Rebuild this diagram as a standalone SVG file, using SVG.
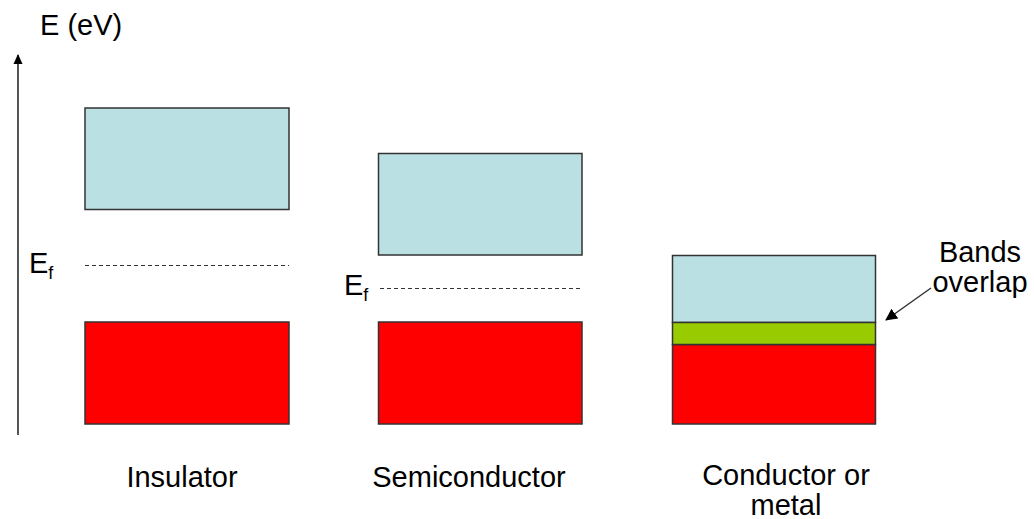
<svg xmlns="http://www.w3.org/2000/svg" width="1034" height="519" viewBox="0 0 1034 519">
  <style>
    .band { stroke: #333; stroke-width: 1.5; }
    .cb { fill: #BBE0E3; }
    .vb { fill: #FF0000; }
    .ov { fill: #99CC00; }
    .lbl { font-family: "Liberation Sans", Arial, sans-serif; font-size: 29px; fill: #000; }
    .sub { font-size: 18px; }
    .ef { stroke: #333; stroke-width: 1; stroke-dasharray: 4 3; fill: none; }
  </style>
  <defs>
    <marker id="head" markerWidth="12" markerHeight="12" refX="11" refY="6" orient="auto" markerUnits="userSpaceOnUse">
      <path d="M0,0 L12,6 L0,12 Z" fill="#000"/>
    </marker>
    <marker id="axisHead" markerWidth="10" markerHeight="10" refX="9" refY="5" orient="auto" markerUnits="userSpaceOnUse">
      <path d="M0,0.5 L10,5 L0,9.5 Z" fill="#000"/>
    </marker>
  </defs>

  <!-- energy axis -->
  <g id="axis">
    <line x1="18" y1="435" x2="18" y2="55" stroke="#555" stroke-width="2" marker-end="url(#axisHead)"/>
    <text class="lbl" x="40" y="35">E (eV)</text>
  </g>

  <!-- insulator: wide gap, Fermi level mid-gap -->
  <g id="insulator">
    <rect class="band cb" x="85" y="108" width="204" height="101.5"/>
    <rect class="band vb" x="85" y="322" width="204" height="102"/>
    <line class="ef" x1="85" y1="265.5" x2="289" y2="265.5"/>
    <text class="lbl" x="29" y="273">E<tspan class="sub" dy="6">f</tspan></text>
    <text class="lbl" x="182" y="487" text-anchor="middle">Insulator</text>
  </g>

  <!-- semiconductor: narrow gap -->
  <g id="semiconductor">
    <rect class="band cb" x="378.5" y="153.5" width="203.5" height="101.5"/>
    <rect class="band vb" x="378.5" y="322" width="203.5" height="102"/>
    <line class="ef" x1="380" y1="288.5" x2="582" y2="288.5"/>
    <text class="lbl" x="344" y="295">E<tspan class="sub" dy="6">f</tspan></text>
    <text class="lbl" x="469" y="487" text-anchor="middle">Semiconductor</text>
  </g>

  <!-- conductor: overlapping bands -->
  <g id="conductor">
    <rect class="band cb" x="672.5" y="255.5" width="203" height="67"/>
    <rect class="band vb" x="672.5" y="344.5" width="203" height="79.5"/>
    <rect class="band ov" x="672.5" y="322.5" width="203" height="22"/>
    <text class="lbl" x="786" y="485" text-anchor="middle">Conductor or</text>
    <text class="lbl" x="786" y="515" text-anchor="middle">metal</text>
  </g>

  <g id="overlap-note">
    <text class="lbl" x="980" y="262" text-anchor="middle">Bands</text>
    <text class="lbl" x="980" y="292" text-anchor="middle">overlap</text>
  </g>

  <g id="connectors">
    <line x1="931" y1="288" x2="886" y2="320" stroke="#333" stroke-width="1.5" marker-end="url(#head)"/>
  </g>
</svg>
